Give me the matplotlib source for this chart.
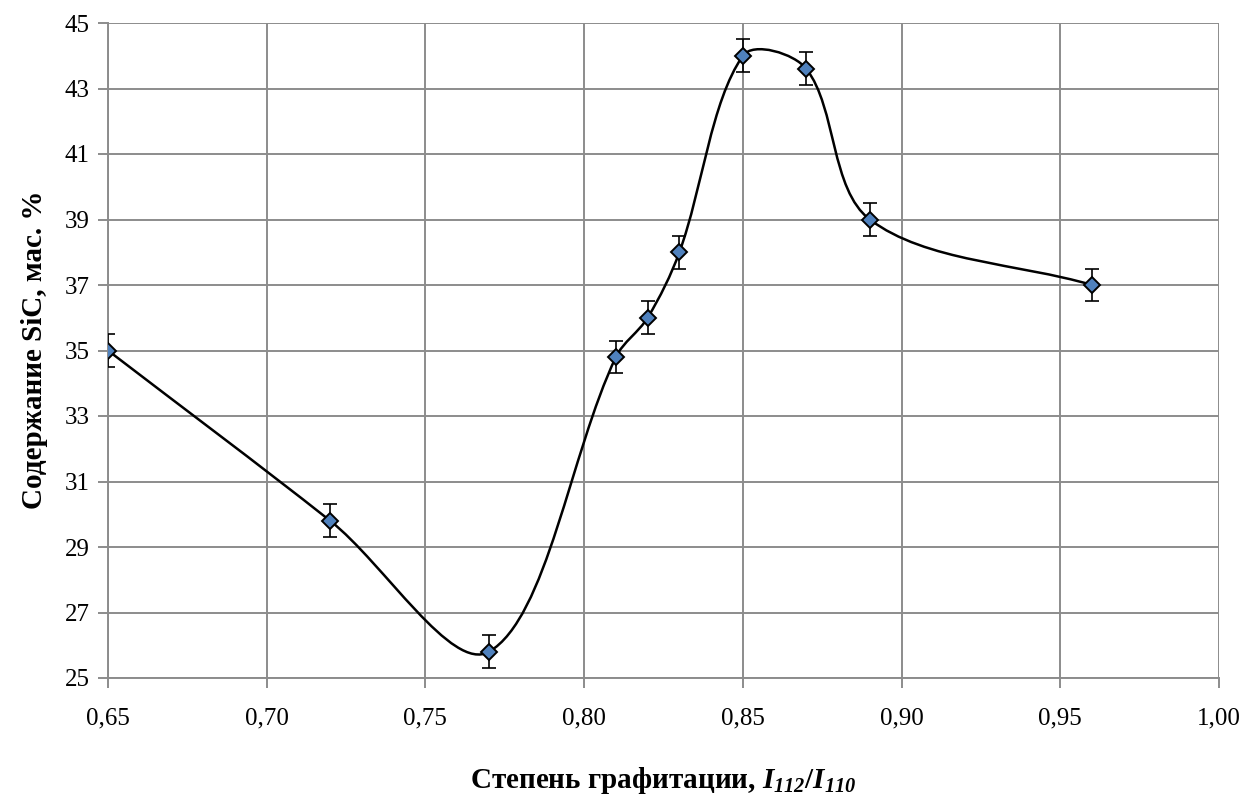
import numpy as np
import matplotlib.pyplot as plt
from matplotlib.path import Path
from matplotlib.patches import PathPatch

plt.rcParams['font.family'] = ['Liberation Serif', 'DejaVu Serif']
plt.rcParams['mathtext.fontset'] = 'custom'
plt.rcParams['mathtext.rm'] = 'Liberation Serif:bold:italic'
plt.rcParams['mathtext.it'] = 'Liberation Serif:bold:italic'
plt.rcParams['mathtext.bf'] = 'Liberation Serif:bold'

# dati
grafit = [0.65, 0.72, 0.77, 0.81, 0.82, 0.83, 0.85, 0.87, 0.89, 0.96]
sic = [35.0, 29.8, 25.8, 34.8, 36.0, 38.0, 44.0, 43.6, 39.0, 37.0]
errore = [0.5] * len(sic)

W, H = 1246, 798
fig = plt.figure(figsize=(W / 100, H / 100), dpi=100)
ax = fig.add_axes([108 / W, 1 - 678 / H, (1219 - 108) / W, (678 - 23) / H])
ax.set_xlim(0.65, 1.00)
ax.set_ylim(25, 45)

# curva lisciata tipo Excel: Bezier con tangenti pesate sulla lunghezza delle corde (in pixel)
sx = (1219 - 108) / 0.35
sy = (678 - 23) / 20.0
P = np.column_stack([np.array(grafit) * sx, np.array(sic) * sy])
Pe = np.vstack([P[0], P, P[-1]])
verts = [tuple(P[0])]
codes = [Path.MOVETO]
for i in range(len(P) - 1):
    p0, p1, p2, p3 = Pe[i], Pe[i + 1], Pe[i + 2], Pe[i + 3]
    d01 = np.hypot(*(p1 - p0))
    d12 = np.hypot(*(p2 - p1))
    d23 = np.hypot(*(p3 - p2))
    c1 = p1 + (p2 - p0) * d12 / (d01 + d12) / 3
    c2 = p2 - (p3 - p1) * d12 / (d12 + d23) / 3
    verts += [tuple(c1), tuple(c2), tuple(p2)]
    codes += [Path.CURVE4] * 3
verts = [(vx / sx, vy / sy) for vx, vy in verts]
ax.add_patch(PathPatch(Path(verts, codes), fill=False, edgecolor='black', lw=1.8, zorder=3))

ax.errorbar(grafit, sic, yerr=errore, fmt='none', ecolor='black', elinewidth=1.2,
            capsize=5, capthick=1.2, zorder=4)
ax.plot(grafit, sic, 'D', ms=8.5, mfc='#4F81BD', mec='black', mew=1.4, ls='none', zorder=5)

xt = np.arange(0.65, 1.001, 0.05)
ax.set_xticks(xt)
ax.set_xticklabels([f'{v:.2f}'.replace('.', ',') for v in xt])
ax.set_yticks(np.arange(25, 45.1, 2))
ax.grid(True, color='#8c8c8c', lw=1.4)
ax.set_axisbelow(True)
for s in ['top', 'right']:
    ax.spines[s].set_visible(False)
for s in ['left', 'bottom']:
    ax.spines[s].set_color('#8c8c8c')
    ax.spines[s].set_linewidth(1.4)
ax.tick_params(axis='both', direction='out', length=7, width=1.4, color='#8c8c8c',
               labelsize=18, pad=6)
ax.tick_params(axis='x', pad=14)

fig.text(35 / W, 1 - 350 / H, 'Содержание SiC, мас. %', rotation=90, fontsize=21,
         fontweight='bold', ha='center', va='center')
fig.text(663 / W, 1 - 780 / H, r'Степень графитации, $I_{112}\mathbf{/}I_{110}$',
         fontsize=21, fontweight='bold', ha='center', va='center')

fig.savefig('out.png', dpi=100)
